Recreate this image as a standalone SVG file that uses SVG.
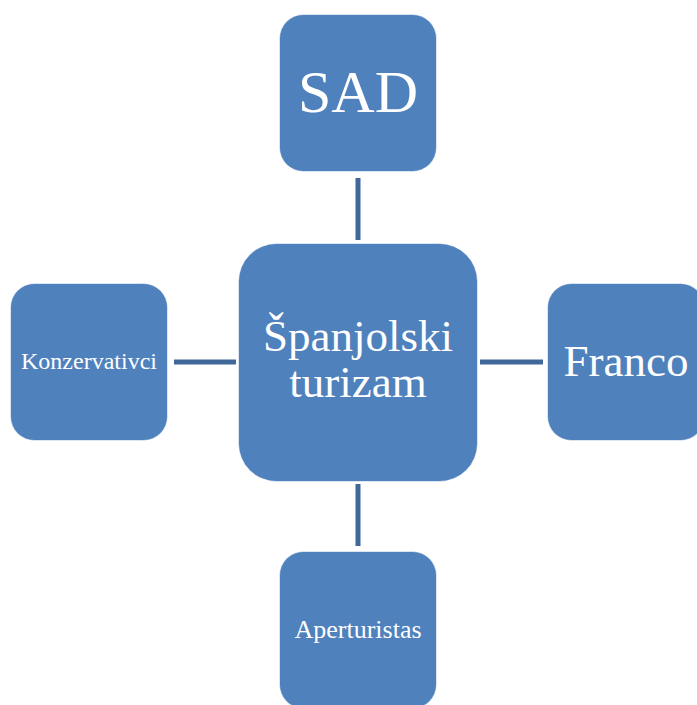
<svg xmlns="http://www.w3.org/2000/svg" width="697" height="705" viewBox="0 0 697 705">
<style>
.box{fill:#4F81BD;stroke:#ffffff;stroke-opacity:0.6;stroke-width:1}
.lbl{fill:#ffffff;font-family:"Liberation Serif","Times New Roman",serif;text-anchor:middle}
.con{stroke:#3F6899;stroke-width:5;fill:none}
</style>
<rect width="697" height="705" fill="#ffffff"/>
<g id="connectors">
<line class="con" x1="358" y1="178" x2="358" y2="240"/>
<line class="con" x1="358" y1="484" x2="358" y2="546"/>
<line class="con" x1="174" y1="362" x2="236" y2="362"/>
<line class="con" x1="480" y1="362" x2="543" y2="362"/>
</g>
<g id="center">
<rect class="box" x="238.5" y="243.5" width="239" height="238" rx="38"/>
<text class="lbl" font-size="45" x="358" y="351">Španjolski</text>
<text class="lbl" font-size="45" x="358" y="397">turizam</text>
</g>
<g id="sad">
<rect class="box" x="279.5" y="14.5" width="157" height="157" rx="24"/>
<text class="lbl" font-size="60" x="358" y="112">SAD</text>
</g>
<g id="konzervativci">
<rect class="box" x="10.5" y="283.5" width="157" height="157" rx="24"/>
<text class="lbl" font-size="24" x="89" y="369">Konzervativci</text>
</g>
<g id="franco">
<rect class="box" x="547.5" y="283.5" width="157" height="157" rx="24"/>
<text class="lbl" font-size="45" x="626" y="376">Franco</text>
</g>
<g id="aperturistas">
<rect class="box" x="279.5" y="551.5" width="157" height="157" rx="24"/>
<text class="lbl" font-size="26" x="358" y="638">Aperturistas</text>
</g>
</svg>
